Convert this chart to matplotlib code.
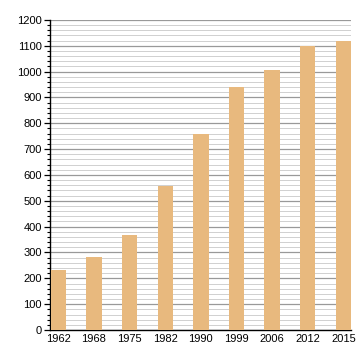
import matplotlib
matplotlib.use("Agg")
import matplotlib.pyplot as plt
from matplotlib.ticker import MultipleLocator

years = ["1962", "1968", "1975", "1982", "1990", "1999", "2006", "2012", "2015"]
values = [234, 284, 368, 556, 760, 941, 1006, 1098, 1118]

plt.rcParams['font.family'] = ['Liberation Sans', 'DejaVu Sans']
fig = plt.figure(figsize=(3.6, 3.6), dpi=100)
ax = fig.add_axes([50/360, 30/360, 301/360, 310/360])

x = list(range(len(years)))
ax.bar(x, values, width=0.43, color="#e8b97e", zorder=3)
ax.set_xlim(-0.235, 8.215)
ax.set_ylim(0, 1200)
ax.yaxis.set_major_locator(MultipleLocator(100))
ax.yaxis.set_minor_locator(MultipleLocator(20))
ax.grid(which='major', axis='y', color='#999999', linewidth=0.9, zorder=1)
ax.grid(which='minor', axis='y', color='#d0d0d0', linewidth=0.7, zorder=1)
ax.set_xticks(x)
ax.set_xticklabels(years)
for s in ['top', 'right']:
    ax.spines[s].set_visible(False)
ax.spines['left'].set_linewidth(1.0)
ax.spines['bottom'].set_linewidth(1.0)
ax.tick_params(axis='x', length=0, labelsize=8, pad=3)
ax.tick_params(axis='y', which='major', length=4, width=0.9, labelsize=8, pad=2)
ax.tick_params(axis='y', which='minor', length=2, width=0.8)
fig.savefig("out.png", dpi=100)
